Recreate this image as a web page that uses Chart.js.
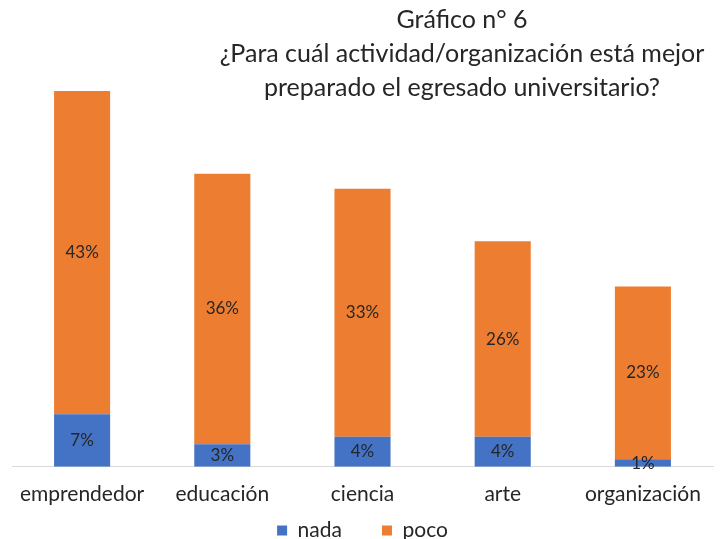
<!DOCTYPE html>
<html>
<head>
<meta charset="utf-8">
<script src="https://cdn.jsdelivr.net/npm/chart.js@4"></script>
<style>
  body { margin: 0; background: #fff; }
</style>
</head>
<body>
<canvas id="myChart" width="721" height="539"></canvas>
<script>
const categories = ['emprendedor', 'educación', 'ciencia', 'arte', 'organización'];
const nada = [7, 3, 4, 4, 1];
const poco = [43, 36, 33, 26, 23];
const titleLines = ['Gráfico n° 6', '¿Para cuál actividad/organización está mejor', 'preparado el egresado universitario?'];

const FONT = 'Lato, "Open Sans", sans-serif';

// draws the value in the middle of every segment
const segmentLabels = {
    id: 'segmentLabels',
    afterDatasetsDraw(chart) {
        const ctx = chart.ctx;
        ctx.save();
        ctx.font = '17px ' + FONT;
        ctx.fillStyle = '#262626';
        ctx.textAlign = 'center';
        ctx.textBaseline = 'middle';
        chart.data.datasets.forEach((ds, i) => {
            chart.getDatasetMeta(i).data.forEach((bar, j) => {
                const p = bar.getProps(['x', 'y', 'base'], true);
                ctx.fillText(ds.data[j] + '%', p.x, (p.y + p.base) / 2);
            });
        });
        ctx.restore();
    }
};

// title is centred off to the right, as in the original
const offsetTitle = {
    id: 'offsetTitle',
    afterDraw(chart) {
        const ctx = chart.ctx;
        ctx.save();
        ctx.font = '25px ' + FONT;
        ctx.fillStyle = '#262626';
        ctx.textAlign = 'center';
        ctx.textBaseline = 'middle';
        titleLines.forEach((line, i) => ctx.fillText(line, 462, 20 + i * 34));
        ctx.restore();
    }
};

// wide legend spacing needs padding 40, pull the legend back up so it stays close to the axis
const legendNudge = {
    id: 'legendNudge',
    afterLayout(chart) {
        chart.legend.top -= 34;
        chart.legend.bottom -= 34;
    }
};

const config = {
    type: 'bar',
    data: {
        labels: categories,
        datasets: [
            { label: 'nada', data: nada, backgroundColor: '#4472C4' },
            { label: 'poco', data: poco, backgroundColor: '#ED7D31' }
        ]
    },
    options: {
        responsive: false,
        animation: false,
        categoryPercentage: 0.8,
        barPercentage: 0.5,
        layout: { padding: { top: 91, left: 12, right: 8, bottom: -46 } },
        scales: {
            x: {
                stacked: true,
                grid: { display: false },
                border: { color: '#d9d9d9', width: 1 },
                ticks: { color: '#262626', font: { family: FONT, size: 21 }, padding: 7 }
            },
            y: { stacked: true, display: false, min: 0, max: 50 }
        },
        plugins: {
            title: { display: false },
            tooltip: { enabled: false },
            legend: {
                position: 'bottom',
                labels: {
                    boxWidth: 10, boxHeight: 10, padding: 40,
                    color: '#262626', font: { family: FONT, size: 21 }
                }
            }
        }
    },
    plugins: [segmentLabels, offsetTitle, legendNudge]
};

var ctx = document.getElementById('myChart').getContext('2d');
var chart = new Chart(ctx, config);
</script>
</body>
</html>
